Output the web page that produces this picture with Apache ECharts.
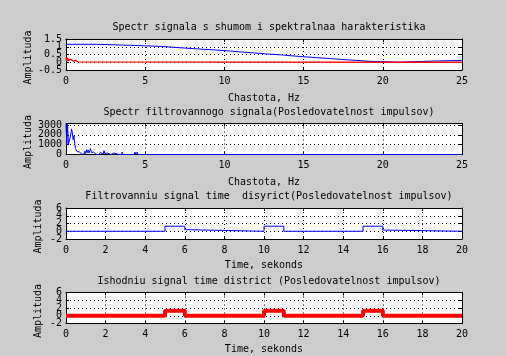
<!DOCTYPE html>
<html>
<head>
<meta charset="utf-8">
<script src="https://cdn.jsdelivr.net/npm/echarts@6/dist/echarts.min.js"></script>
<style>
html,body{margin:0;padding:0;background:#cccccc;}
#chart{width:506px;height:356px;}
</style>
</head>
<body>
<div id="chart"></div>
<script>
// ---- Data ----
// Plot 1: spectral characteristic of the filter (blue, stepwise)
var specF = [0, 1.9, 4.5, 6.05, 7.3, 8.45, 9.3, 10.3, 11.1, 11.9, 12.65, 13.5, 14.2, 14.95, 15.8, 16.65, 17.4, 18.3, 19.2, 21.0, 22.65, 25];
var specH = [1.16, 1.08, 1.02, 0.93, 0.85, 0.8, 0.73, 0.66, 0.6, 0.54, 0.48, 0.42, 0.36, 0.3, 0.24, 0.18, 0.12, 0.06, 0, 0.06, 0.12, 0.12];
// Plot 1: normalised spectrum of the noisy signal (red)
var noisyF = [0, 0.05, 0.1, 0.15, 0.2, 0.25, 0.3, 0.35, 0.4, 0.45, 0.5, 0.55, 0.6, 0.65, 0.7, 0.75, 0.8, 25];
var noisyA = [0.3, 0.05, 0.3, 0.1, 0.12, 0.05, 0.2, 0.1, 0.22, 0.08, 0.15, 0.05, 0.12, 0.03, 0.08, 0.02, 0, 0];
// Plot 2: spectrum of the filtered signal
var filtSpecF = [0, 0.05, 0.1, 0.15, 0.2, 0.25, 0.3, 0.35, 0.4, 0.45, 0.5, 0.55, 0.6, 0.65, 0.7, 0.75, 0.8, 0.85, 0.9, 0.95, 1.0, 1.05, 1.1, 1.15, 1.2, 1.25, 1.3, 1.35, 1.4, 1.45, 1.5, 1.55, 1.6, 1.65, 1.7, 1.75, 1.8, 1.85, 1.9, 2.05, 2.1, 2.15, 2.2, 2.25, 2.3, 2.35, 2.4, 2.45, 2.5, 2.55, 2.6, 2.65, 2.85, 2.9, 2.95, 3.0, 3.05, 3.35, 3.4, 3.45, 3.5, 3.55, 3.6, 4.15, 4.2, 4.25, 4.3, 4.35, 4.4, 4.45, 4.5, 4.55, 5.15, 5.2, 5.25, 5.35, 5.4, 5.45, 5.6, 5.65, 5.7, 6.35, 6.4, 6.45, 7.4, 7.45, 7.5, 25];
var filtSpecA = [3150, 1000, 3100, 1000, 1100, 900, 2000, 2600, 2200, 1500, 1900, 1100, 600, 800, 300, 500, 150, 250, 60, 120, 30, 20, 150, 60, 350, 100, 500, 200, 450, 150, 250, 600, 200, 350, 100, 250, 50, 100, 20, 0, 150, 30, 200, 60, 100, 20, 400, 100, 200, 30, 150, 0, 0, 200, 20, 150, 0, 0, 200, 10, 0, 250, 0, 0, 200, 20, 0, 250, 20, 0, 250, 0, 0, 120, 0, 0, 100, 0, 0, 150, 0, 0, 150, 0, 0, 150, 0, 0];
// Plot 3: filtered signal in time
var filtT = [0, 5, 5, 6, 6, 6.15, 6.15, 10, 10, 11, 11, 15, 15, 16, 16, 16.15, 16.15, 20];
var filtV = [0, 0, 1.3, 1.3, 0.4, 0.4, 0, 0, 1.3, 1.3, 0, 0, 1.3, 1.3, 0.3, 0.3, 0, 0];
// Plot 4: original signal in time
var origT = [0, 5, 5, 6, 6, 10, 10, 11, 11, 15, 15, 16, 16, 20];
var origV = [0, 0, 1.3, 1.3, 0, 0, 1.3, 1.3, 0, 0, 1.3, 1.3, 0, 0];

// Tick labels of the y axes
var yTicks1 = [-0.5, 0, 0.5, 1, 1.5];
var yTicks2 = [0, 1000, 2000, 3000];
var yTicks3 = [-2, 0, 2, 4, 6];
var yTicks4 = [-2, 0, 2, 4, 6];

var titles = [
  'Spectr signala s shumom i spektralnaa harakteristika',
  'Spectr filtrovannogo signala(Posledovatelnost impulsov)',
  'Filtrovanniu signal time  disyrict(Posledovatelnost impulsov)',
  'Ishodniu signal time district (Posledovatelnost impulsov)'
];
var xNames = ['Chastota, Hz', 'Chastota, Hz', 'Time, sekonds', 'Time, sekonds'];
var xRanges = [[0, 25, 5], [0, 25, 5], [0, 20, 2], [0, 20, 2]];
var yRanges = [[-0.5, 1.5, 0.5], [0, 3150, 1000], [-2, 6, 2], [-2, 6, 2]];
var yTickLists = [yTicks1, yTicks2, yTicks3, yTicks4];

function zip(a, b) { return a.map(function (v, i) { return [v, b[i]]; }); }

var FONT = 'DejaVu Sans Mono';
var tops = [39, 123.5, 208, 292.5];
var H = 31;
var nameGaps = [33, 33, 22.5, 22.5];
var grids = [], xAxes = [], yAxes = [], titleArr = [];
var lineStyleBlack = {color: '#000', width: 1};

tops.forEach(function (t, i) {
  grids.push({left: 66, right: 44, top: t, height: H, show: true, backgroundColor: '#ffffff', borderWidth: 0});
  var xr = xRanges[i], yr = yRanges[i], ticks = yTickLists[i];
  xAxes.push({
    type: 'value', gridIndex: i, position: 'bottom', min: xr[0], max: xr[1], interval: xr[2],
    axisLine: {show: true, onZero: false, lineStyle: lineStyleBlack},
    axisTick: {show: true, inside: true, length: 3, lineStyle: {color: '#000'}},
    axisLabel: {color: '#000', fontFamily: FONT, fontSize: 10, margin: 6, hideOverlap: false,
      formatter: function (v) { return String(v); }},
    splitLine: {show: true, lineStyle: {color: '#000', width: 1, type: [1, 3]}},
    name: xNames[i], nameLocation: 'middle', nameGap: i < 2 ? 23 : 21,
    nameTextStyle: {color: '#000', fontFamily: FONT, fontSize: 10}
  });
  xAxes.push({
    type: 'value', gridIndex: i, position: 'top', min: xr[0], max: xr[1], interval: xr[2],
    axisLine: {show: true, onZero: false, lineStyle: lineStyleBlack},
    axisTick: {show: true, inside: true, length: 3, lineStyle: {color: '#000'}},
    axisLabel: {show: false}, splitLine: {show: false}
  });
  // main left axis: line, ticks, grid, name
  yAxes.push({
    type: 'value', gridIndex: i, position: 'left', min: yr[0], max: yr[1], interval: yr[2],
    axisLine: {show: true, onZero: false, lineStyle: lineStyleBlack},
    axisTick: {show: true, inside: true, length: 3, lineStyle: {color: '#000'}},
    axisLabel: {show: false},
    splitLine: {show: true, lineStyle: {color: '#000', width: 1, type: [1, 3]}},
    name: 'Amplituda', nameLocation: 'middle', nameGap: nameGaps[i],
    nameTextStyle: {color: '#000', fontFamily: FONT, fontSize: 10, padding: [0, 6, 0, 0]}
  });
  yAxes.push({
    type: 'value', gridIndex: i, position: 'right', min: yr[0], max: yr[1], interval: yr[2],
    axisLine: {show: true, onZero: false, lineStyle: lineStyleBlack},
    axisTick: {show: true, inside: true, length: 3, lineStyle: {color: '#000'}},
    axisLabel: {show: false}, splitLine: {show: false}
  });
  // two label-only axes (even / odd tick labels) so overlapping labels all stay visible
  [0, 1].forEach(function (parity) {
    yAxes.push({
      type: 'value', gridIndex: i, position: 'left', offset: 0, min: yr[0], max: yr[1], interval: yr[2],
      axisLine: {show: false}, axisTick: {show: false}, splitLine: {show: false},
      axisLabel: {
        color: '#000', fontFamily: FONT, fontSize: 10, margin: 4, hideOverlap: false,
        showMinLabel: parity === 0, showMaxLabel: parity === 0 && i !== 1,
        formatter: function (v) {
          var k = ticks.indexOf(v);
          return (k >= 0 && k % 2 === parity) ? String(v) : '';
        }
      }
    });
  });
  titleArr.push({
    text: titles[i], left: 264, textAlign: 'center', top: t - 21.5,
    textStyle: {color: '#000', fontFamily: FONT, fontSize: 10, fontWeight: 'normal'}
  });
});

function lineSeries(idx, data, color, width, step) {
  return {
    type: 'line', xAxisIndex: idx * 2, yAxisIndex: idx * 4, data: data,
    showSymbol: false, symbol: 'none', step: step || false, z: 3,
    lineStyle: {color: color, width: width}, clip: true
  };
}

var option = {
  animation: false,
  backgroundColor: '#cccccc',
  title: titleArr,
  grid: grids,
  xAxis: xAxes,
  yAxis: yAxes,
  series: [
    lineSeries(0, zip(specF, specH), '#0000ff', 1, 'end'),
    lineSeries(0, zip(noisyF, noisyA), '#ff0000', 1.3),
    lineSeries(1, zip(filtSpecF, filtSpecA), '#0000ff', 1),
    lineSeries(2, zip(filtT, filtV), '#0000ff', 1),
    lineSeries(3, zip(origT, origV), '#ff0000', 4)
  ]
};
var chart = echarts.init(document.getElementById('chart'), null, {renderer: 'canvas'});
chart.setOption(option);
</script>
</body>
</html>
